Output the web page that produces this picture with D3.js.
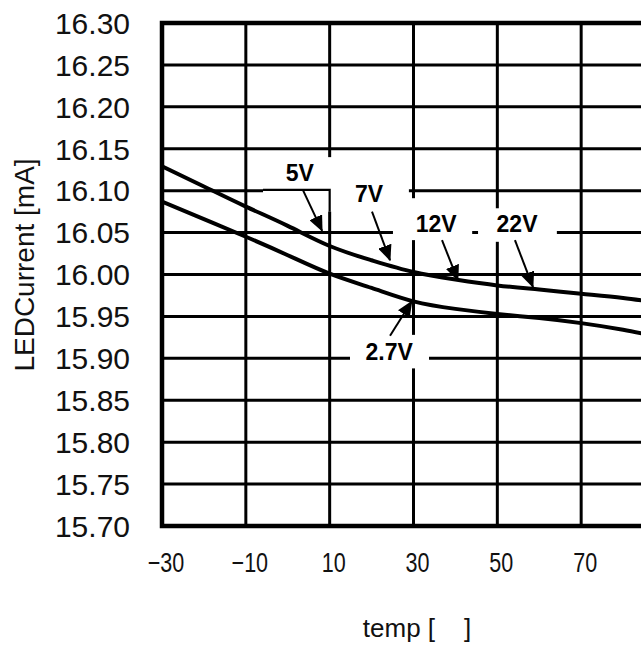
<!DOCTYPE html>
<html>
<head>
<meta charset="utf-8">
<script src="https://cdn.jsdelivr.net/npm/d3@7"></script>
<style>
  html, body { margin: 0; padding: 0; background: #fff; }
  svg { display: block; }
</style>
</head>
<body>
<svg id="chart" width="641" height="645"></svg>
<script>
// ---- data ----
const temps = [-30, -20, -10, 0, 10, 20, 30, 40, 50, 60, 70, 80, 90];
const currentHigh = [16.129, 16.105, 16.081, 16.058, 16.034, 16.017, 16.003, 15.994, 15.987, 15.982, 15.977, 15.972, 15.965];
const currentLow  = [16.087, 16.066, 16.045, 16.023, 16.001, 15.984, 15.968, 15.959, 15.953, 15.948, 15.942, 15.934, 15.924];

const xTickValues = [-30, -10, 10, 30, 50, 70];
const xTickLabels = ["\u221230", "\u221210", "10", "30", "50", "70"];
const yTickValues = [15.70, 15.75, 15.80, 15.85, 15.90, 15.95, 16.00, 16.05, 16.10, 16.15, 16.20, 16.25, 16.30];
const yTickLabels = ["15.70", "15.75", "15.80", "15.85", "15.90", "15.95", "16.00", "16.05", "16.10", "16.15", "16.20", "16.25", "16.30"];

const xTitle = "temp [\u00A0\u00A0\u00A0\u00A0]";
const yTitle = "LEDCurrent [mA]";

// annotations (data units)
const noteLabels   = ["5V", "7V", "12V", "22V", "2.7V"];
const noteTemp     = [2.9, 19.4, 35.4, 54.7, 24.2];
const noteCurrent  = [16.122, 16.096, 16.061, 16.061, 15.908];
const arrowTemp0   = [3.6, 20.1, 36.8, 54.2, 24.4];
const arrowCur0    = [16.101, 16.075, 16.041, 16.041, 15.927];
const arrowTemp1   = [8.2, 24.4, 40.6, 58.5, 29.6];
const arrowCur1    = [16.052, 16.017, 15.993, 15.985, 15.968];

// white label boxes (data units)
const boxTemp0 = [-5.9, 25.1, 45.4, 14.85];
const boxTemp1 = [28.9, 44.0, 64.2, 33.7];
const boxCur0  = [16.140, 16.091, 16.079, 15.928];
const boxCur1  = [16.075, 16.041, 16.039, 15.888];
const boxEdgeTemp = [-5.9, 10.0, 10.0];
const boxEdgeCur  = [16.101, 16.101, 16.075];

// ---- drawing ----
const svg = d3.select("#chart");
const font = "'Liberation Sans', Arial, Helvetica, sans-serif";

const x = d3.scaleLinear().domain([-30, 90]).range([162, 665]);
const y = d3.scaleLinear().domain([15.70, 16.30]).range([526, 23]);

const plot = svg.append("g");

// horizontal grid
plot.selectAll("line.hgrid")
  .data(yTickValues.slice(1, -1))
  .join("line")
  .attr("x1", x(-30)).attr("x2", x(90))
  .attr("y1", d => y(d)).attr("y2", d => y(d))
  .attr("stroke", "#000").attr("stroke-width", 3);

// vertical grid
plot.selectAll("line.vgrid")
  .data(xTickValues.slice(1))
  .join("line")
  .attr("x1", d => x(d)).attr("x2", d => x(d))
  .attr("y1", y(16.30)).attr("y2", y(15.70))
  .attr("stroke", "#000").attr("stroke-width", 3);

// border
plot.append("rect")
  .attr("x", x(-30)).attr("y", y(16.30))
  .attr("width", x(90) - x(-30)).attr("height", y(15.70) - y(16.30))
  .attr("fill", "none").attr("stroke", "#000").attr("stroke-width", 4.5);

// white boxes behind labels
plot.selectAll("rect.box")
  .data(boxTemp0.map((d, i) => i))
  .join("rect")
  .attr("x", i => x(boxTemp0[i]))
  .attr("y", i => y(boxCur0[i]))
  .attr("width", i => x(boxTemp1[i]) - x(boxTemp0[i]))
  .attr("height", i => y(boxCur1[i]) - y(boxCur0[i]))
  .attr("fill", "#fff");

plot.append("path")
  .attr("d", d3.line().x((d, i) => x(boxEdgeTemp[i])).y((d, i) => y(boxEdgeCur[i]))(boxEdgeTemp))
  .attr("fill", "none").attr("stroke", "#000").attr("stroke-width", 2.2);

// curves
svg.append("clipPath").attr("id", "pc").append("rect")
  .attr("x", x(-30)).attr("y", y(16.30))
  .attr("width", x(90) - x(-30)).attr("height", y(15.70) - y(16.30));

const line = d3.line()
  .x((d, i) => x(temps[i]))
  .y(d => y(d))
  .curve(d3.curveNatural);

[currentHigh, currentLow].forEach(series => {
  plot.append("path")
    .attr("d", line(series))
    .attr("clip-path", "url(#pc)")
    .attr("fill", "none")
    .attr("stroke", "#000")
    .attr("stroke-width", 4)
    .attr("stroke-linecap", "round");
});

// arrow marker
svg.append("defs").append("marker")
  .attr("id", "arrow")
  .attr("markerUnits", "userSpaceOnUse")
  .attr("markerWidth", 16).attr("markerHeight", 14)
  .attr("viewBox", "0 0 16 14")
  .attr("refX", 15).attr("refY", 7)
  .attr("orient", "auto")
  .append("path")
  .attr("d", "M0,0 L16,7 L0,14 Z")
  .attr("fill", "#000");

plot.selectAll("line.arrow")
  .data(noteLabels.map((d, i) => i))
  .join("line")
  .attr("x1", i => x(arrowTemp0[i])).attr("y1", i => y(arrowCur0[i]))
  .attr("x2", i => x(arrowTemp1[i])).attr("y2", i => y(arrowCur1[i]))
  .attr("stroke", "#000").attr("stroke-width", 2)
  .attr("marker-end", "url(#arrow)");

plot.selectAll("text.note")
  .data(noteLabels)
  .join("text")
  .attr("x", (d, i) => x(noteTemp[i]))
  .attr("y", (d, i) => y(noteCurrent[i]))
  .attr("dy", "0.36em")
  .attr("text-anchor", "middle")
  .attr("font-family", font)
  .attr("font-weight", "bold")
  .attr("font-size", 23)
  .attr("fill", "#000")
  .text(d => d);

// y tick labels
svg.selectAll("text.ytick")
  .data(yTickValues)
  .join("text")
  .attr("x", 130)
  .attr("y", d => y(d))
  .attr("dy", "0.36em")
  .attr("text-anchor", "end")
  .attr("font-family", font)
  .attr("font-size", 30)
  .attr("fill", "#111")
  .text((d, i) => yTickLabels[i]);

// x tick labels (condensed)
svg.selectAll("text.xtick")
  .data(xTickValues)
  .join("text")
  .attr("x", d => x(d) + 4)
  .attr("y", 572)
  .attr("text-anchor", "middle")
  .attr("font-family", font)
  .attr("font-size", 28)
  .attr("fill", "#111")
  .text((d, i) => xTickLabels[i])
  .each(function() {
    const w = this.getComputedTextLength();
    d3.select(this).attr("textLength", w * 0.77).attr("lengthAdjust", "spacingAndGlyphs");
  });

// axis titles
svg.append("text")
  .attr("x", 417).attr("y", 637)
  .attr("text-anchor", "middle")
  .attr("font-family", font)
  .attr("font-size", 26)
  .attr("fill", "#111")
  .text(xTitle);

svg.append("text")
  .attr("transform", "translate(34,265) rotate(-90)")
  .attr("text-anchor", "middle")
  .attr("font-family", font)
  .attr("font-size", 28)
  .attr("fill", "#111")
  .text(yTitle);
</script>
</body>
</html>
